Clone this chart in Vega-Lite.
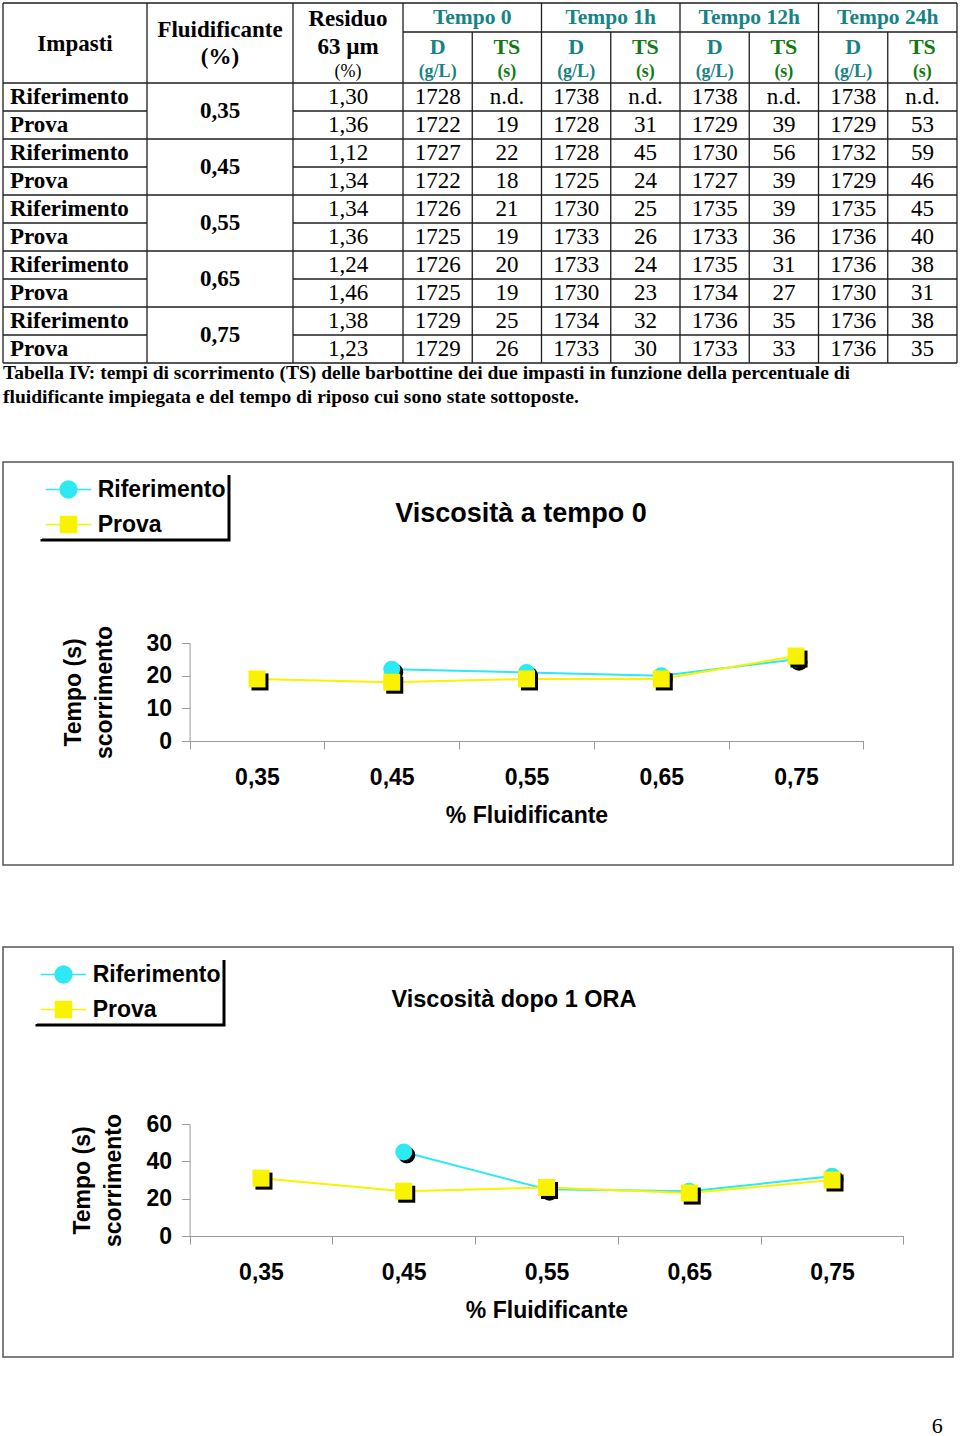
{
  "$schema": "https://vega.github.io/schema/vega-lite/v6.json",
  "padding": 0,
  "background": "white",
  "config": {"view": {"stroke": null}},
  "datasets": {
    "table": [
      {"r":0,"impasto":"Riferimento","fl":"0,35","residuo":"1,30","d0":"1728","ts0":"n.d.","d1":"1738","ts1":"n.d.","d12":"1738","ts12":"n.d.","d24":"1738","ts24":"n.d."},
      {"r":1,"impasto":"Prova","fl":"0,35","residuo":"1,36","d0":"1722","ts0":"19","d1":"1728","ts1":"31","d12":"1729","ts12":"39","d24":"1729","ts24":"53"},
      {"r":2,"impasto":"Riferimento","fl":"0,45","residuo":"1,12","d0":"1727","ts0":"22","d1":"1728","ts1":"45","d12":"1730","ts12":"56","d24":"1732","ts24":"59"},
      {"r":3,"impasto":"Prova","fl":"0,45","residuo":"1,34","d0":"1722","ts0":"18","d1":"1725","ts1":"24","d12":"1727","ts12":"39","d24":"1729","ts24":"46"},
      {"r":4,"impasto":"Riferimento","fl":"0,55","residuo":"1,34","d0":"1726","ts0":"21","d1":"1730","ts1":"25","d12":"1735","ts12":"39","d24":"1735","ts24":"45"},
      {"r":5,"impasto":"Prova","fl":"0,55","residuo":"1,36","d0":"1725","ts0":"19","d1":"1733","ts1":"26","d12":"1733","ts12":"36","d24":"1736","ts24":"40"},
      {"r":6,"impasto":"Riferimento","fl":"0,65","residuo":"1,24","d0":"1726","ts0":"20","d1":"1733","ts1":"24","d12":"1735","ts12":"31","d24":"1736","ts24":"38"},
      {"r":7,"impasto":"Prova","fl":"0,65","residuo":"1,46","d0":"1725","ts0":"19","d1":"1730","ts1":"23","d12":"1734","ts12":"27","d24":"1730","ts24":"31"},
      {"r":8,"impasto":"Riferimento","fl":"0,75","residuo":"1,38","d0":"1729","ts0":"25","d1":"1734","ts1":"32","d12":"1736","ts12":"35","d24":"1736","ts24":"38"},
      {"r":9,"impasto":"Prova","fl":"0,75","residuo":"1,23","d0":"1729","ts0":"26","d1":"1733","ts1":"30","d12":"1733","ts12":"33","d24":"1736","ts24":"35"}
    ],
    "cols": [
      {"key":"residuo","c":2.5},{"key":"d0","c":3.5},{"key":"ts0","c":4.5},{"key":"d1","c":5.5},{"key":"ts1","c":6.5},
      {"key":"d12","c":7.5},{"key":"ts12","c":8.5},{"key":"d24","c":9.5},{"key":"ts24","c":10.5}
    ],
    "t0": [
      {"fl":"0,45","s":"Riferimento","ts":22},{"fl":"0,55","s":"Riferimento","ts":21},{"fl":"0,65","s":"Riferimento","ts":20},{"fl":"0,75","s":"Riferimento","ts":25},
      {"fl":"0,35","s":"Prova","ts":19},{"fl":"0,45","s":"Prova","ts":18},{"fl":"0,55","s":"Prova","ts":19},{"fl":"0,65","s":"Prova","ts":19},{"fl":"0,75","s":"Prova","ts":26}
    ],
    "t1": [
      {"fl":"0,45","s":"Riferimento","ts":45},{"fl":"0,55","s":"Riferimento","ts":25},{"fl":"0,65","s":"Riferimento","ts":24},{"fl":"0,75","s":"Riferimento","ts":32},
      {"fl":"0,35","s":"Prova","ts":31},{"fl":"0,45","s":"Prova","ts":24},{"fl":"0,55","s":"Prova","ts":26},{"fl":"0,65","s":"Prova","ts":23},{"fl":"0,75","s":"Prova","ts":30}
    ]
  },
  "title": {"text": "6", "orient": "bottom", "anchor": "end", "font": "Liberation Serif", "fontSize": 22, "fontWeight": "normal", "color": "black", "offset": 58, "dx": -15},
  "resolve": {"scale": {"color": "independent"}, "legend": {"color": "independent"}},
  "vconcat": [
    {
      "width": 956,
      "height": 380,
      "layer": [
        {
          "data": {"values": [
            {"x":0,"x2":11,"y":-2.5,"y2":-2.5},
            {"x":3,"x2":11,"y":-1.5,"y2":-1.5},
            {"x":0,"x2":11,"y":-0.5,"y2":-0.5},
            {"x":0,"x2":1,"y":0.5,"y2":0.5},{"x":2,"x2":11,"y":0.5,"y2":0.5},
            {"x":0,"x2":11,"y":1.5,"y2":1.5},
            {"x":0,"x2":1,"y":2.5,"y2":2.5},{"x":2,"x2":11,"y":2.5,"y2":2.5},
            {"x":0,"x2":11,"y":3.5,"y2":3.5},
            {"x":0,"x2":1,"y":4.5,"y2":4.5},{"x":2,"x2":11,"y":4.5,"y2":4.5},
            {"x":0,"x2":11,"y":5.5,"y2":5.5},
            {"x":0,"x2":1,"y":6.5,"y2":6.5},{"x":2,"x2":11,"y":6.5,"y2":6.5},
            {"x":0,"x2":11,"y":7.5,"y2":7.5},
            {"x":0,"x2":1,"y":8.5,"y2":8.5},{"x":2,"x2":11,"y":8.5,"y2":8.5},
            {"x":0,"x2":11,"y":9.5,"y2":9.5},
            {"x":0,"x2":0,"y":-2.5,"y2":9.5},{"x":1,"x2":1,"y":-2.5,"y2":9.5},{"x":2,"x2":2,"y":-2.5,"y2":9.5},{"x":3,"x2":3,"y":-2.5,"y2":9.5},
            {"x":5,"x2":5,"y":-2.5,"y2":9.5},{"x":7,"x2":7,"y":-2.5,"y2":9.5},{"x":9,"x2":9,"y":-2.5,"y2":9.5},{"x":11,"x2":11,"y":-2.5,"y2":9.5},
            {"x":4,"x2":4,"y":-1.5,"y2":9.5},{"x":6,"x2":6,"y":-1.5,"y2":9.5},{"x":8,"x2":8,"y":-1.5,"y2":9.5},{"x":10,"x2":10,"y":-1.5,"y2":9.5}
          ]},
          "mark": {"type": "rule", "color": "#1e1e1e", "strokeWidth": 1.3},
          "encoding": {
            "x": {"field": "x", "type": "quantitative", "scale": {"domain": [0,1,2,3,11], "range": [3,147,293,403,957], "nice": false, "zero": false}, "axis": null},
            "x2": {"field": "x2"},
            "y": {"field": "y", "type": "quantitative", "scale": {"domain": [-2.5,-1.5,-0.5,9.5,11.5], "range": [3,32,83,363,407], "nice": false, "zero": false}, "axis": null},
            "y2": {"field": "y2"}
          }
        },
        {
          "data": {"name": "table"},
          "mark": {"type": "text", "align": "left", "dx": 7, "baseline": "middle", "font": "Liberation Serif", "fontSize": 23, "fontWeight": "bold", "color": "black"},
          "encoding": {
            "x": {"datum": 0, "type": "quantitative", "axis": null},
            "y": {"field": "r", "type": "quantitative", "axis": null},
            "text": {"field": "impasto"}
          }
        },
        {
          "data": {"name": "table"},
          "transform": [{"aggregate": [{"op": "mean", "field": "r", "as": "rm"}], "groupby": ["fl"]}],
          "mark": {"type": "text", "align": "center", "baseline": "middle", "font": "Liberation Serif", "fontSize": 23, "fontWeight": "bold", "color": "black"},
          "encoding": {
            "x": {"datum": 1.5, "type": "quantitative", "axis": null},
            "y": {"field": "rm", "type": "quantitative", "axis": null},
            "text": {"field": "fl"}
          }
        },
        {
          "data": {"name": "table"},
          "transform": [
            {"fold": ["residuo","d0","ts0","d1","ts1","d12","ts12","d24","ts24"]},
            {"lookup": "key", "from": {"data": {"name": "cols"}, "key": "key", "fields": ["c"]}}
          ],
          "mark": {"type": "text", "align": "center", "baseline": "middle", "font": "Liberation Serif", "fontSize": 23, "fontWeight": "normal", "color": "black"},
          "encoding": {
            "x": {"field": "c", "type": "quantitative", "axis": null},
            "y": {"field": "r", "type": "quantitative", "axis": null},
            "text": {"field": "value"}
          }
        },
        {
          "data": {"values": [
            {"c":0.5,"y":-1.265,"t":"Impasti"},
            {"c":1.5,"y":-1.569,"t":"Fluidificante"},
            {"c":1.5,"y":-1.01,"t":"(%)"},
            {"c":2.5,"y":-1.948,"t":"Residuo"},
            {"c":2.5,"y":-1.206,"t":"63 µm"}
          ]},
          "mark": {"type": "text", "align": "center", "baseline": "middle", "font": "Liberation Serif", "fontSize": 23, "fontWeight": "bold", "color": "black"},
          "encoding": {
            "x": {"field": "c", "type": "quantitative", "axis": null},
            "y": {"field": "y", "type": "quantitative", "axis": null},
            "text": {"field": "t"}
          }
        },
        {
          "data": {"values": [{"c":2.5,"y":-0.716,"t":"(%)"}]},
          "mark": {"type": "text", "align": "center", "baseline": "middle", "font": "Liberation Serif", "fontSize": 18, "fontWeight": "normal", "color": "black"},
          "encoding": {
            "x": {"field": "c", "type": "quantitative", "axis": null},
            "y": {"field": "y", "type": "quantitative", "axis": null},
            "text": {"field": "t"}
          }
        },
        {
          "data": {"values": [
            {"c":4,"y":-1.983,"t":"Tempo 0"},{"c":6,"y":-1.983,"t":"Tempo 1h"},
            {"c":8,"y":-1.983,"t":"Tempo 12h"},{"c":10,"y":-1.983,"t":"Tempo 24h"}
          ]},
          "mark": {"type": "text", "align": "center", "baseline": "middle", "font": "Liberation Serif", "fontSize": 21.5, "fontWeight": "bold", "color": "#178383"},
          "encoding": {
            "x": {"field": "c", "type": "quantitative", "axis": null},
            "y": {"field": "y", "type": "quantitative", "axis": null},
            "text": {"field": "t"}
          }
        },
        {
          "data": {"values": [
            {"c":3.5,"y":-1.206,"t":"D"},{"c":5.5,"y":-1.206,"t":"D"},{"c":7.5,"y":-1.206,"t":"D"},{"c":9.5,"y":-1.206,"t":"D"}
          ]},
          "mark": {"type": "text", "align": "center", "baseline": "middle", "font": "Liberation Serif", "fontSize": 22, "fontWeight": "bold", "color": "#178383"},
          "encoding": {
            "x": {"field": "c", "type": "quantitative", "axis": null},
            "y": {"field": "y", "type": "quantitative", "axis": null},
            "text": {"field": "t"}
          }
        },
        {
          "data": {"values": [
            {"c":3.5,"y":-0.716,"t":"(g/L)"},{"c":5.5,"y":-0.716,"t":"(g/L)"},{"c":7.5,"y":-0.716,"t":"(g/L)"},{"c":9.5,"y":-0.716,"t":"(g/L)"}
          ]},
          "mark": {"type": "text", "align": "center", "baseline": "middle", "font": "Liberation Serif", "fontSize": 18, "fontWeight": "bold", "color": "#178383"},
          "encoding": {
            "x": {"field": "c", "type": "quantitative", "axis": null},
            "y": {"field": "y", "type": "quantitative", "axis": null},
            "text": {"field": "t"}
          }
        },
        {
          "data": {"values": [
            {"c":4.5,"y":-1.206,"t":"TS"},{"c":6.5,"y":-1.206,"t":"TS"},{"c":8.5,"y":-1.206,"t":"TS"},{"c":10.5,"y":-1.206,"t":"TS"}
          ]},
          "mark": {"type": "text", "align": "center", "baseline": "middle", "font": "Liberation Serif", "fontSize": 22, "fontWeight": "bold", "color": "#137a13"},
          "encoding": {
            "x": {"field": "c", "type": "quantitative", "axis": null},
            "y": {"field": "y", "type": "quantitative", "axis": null},
            "text": {"field": "t"}
          }
        },
        {
          "data": {"values": [
            {"c":4.5,"y":-0.716,"t":"(s)"},{"c":6.5,"y":-0.716,"t":"(s)"},{"c":8.5,"y":-0.716,"t":"(s)"},{"c":10.5,"y":-0.716,"t":"(s)"}
          ]},
          "mark": {"type": "text", "align": "center", "baseline": "middle", "font": "Liberation Serif", "fontSize": 18, "fontWeight": "bold", "color": "#137a13"},
          "encoding": {
            "x": {"field": "c", "type": "quantitative", "axis": null},
            "y": {"field": "y", "type": "quantitative", "axis": null},
            "text": {"field": "t"}
          }
        },
        {
          "data": {"values": [
            {"y":9.96,"t":"Tabella IV: tempi di scorrimento (TS) delle barbottine dei due impasti in funzione della percentuale di"},
            {"y":11.045,"t":"fluidificante impiegata e del tempo di riposo cui sono state sottoposte."}
          ]},
          "mark": {"type": "text", "align": "left", "baseline": "middle", "font": "Liberation Serif", "fontSize": 19.5, "fontWeight": "bold", "color": "black"},
          "encoding": {
            "x": {"datum": 0, "type": "quantitative", "axis": null},
            "y": {"field": "y", "type": "quantitative", "axis": null},
            "text": {"field": "t"}
          }
        }
      ]
    },
    {
      "width": 950,
      "height": 403,
      "view": {"stroke": "#555555", "strokeWidth": 1.5},
      "title": {"text": "Viscosità a tempo 0", "font": "Liberation Sans", "fontSize": 27, "fontWeight": "bold", "color": "black", "anchor": "middle", "frame": "group", "offset": 0, "dx": 43, "dy": 66},
      "data": {"name": "t0"},
      "encoding": {
        "x": {"field": "fl", "type": "nominal",
          "scale": {"type": "band", "domain": ["0,35","0,45","0,55","0,65","0,75"], "range": [186.6, 860.4], "paddingInner": 0, "paddingOuter": 0},
          "axis": {"title": "% Fluidificante", "orient": "bottom", "offset": -124, "tickBand": "extent", "grid": false, "domainColor": "#9a9a9a", "tickColor": "#9a9a9a", "tickSize": 8, "labelAngle": 0, "labelFont": "Liberation Sans", "labelFontSize": 23, "labelFontWeight": "bold", "labelColor": "black", "labelPadding": 17, "titleFont": "Liberation Sans", "titleFontSize": 23, "titleFontWeight": "bold", "titleColor": "black", "titlePadding": 15}},
        "y": {"field": "ts", "type": "quantitative",
          "scale": {"domain": [0, 30], "range": [279, 181], "nice": false, "zero": false},
          "axis": {"title": ["Tempo (s)", "scorrimento"], "values": [0,10,20,30], "offset": -186.6, "grid": false, "domainColor": "#9a9a9a", "tickColor": "#9a9a9a", "tickSize": 8, "labelFont": "Liberation Sans", "labelFontSize": 23, "labelFontWeight": "bold", "labelColor": "black", "labelPadding": 10, "titleFont": "Liberation Sans", "titleFontSize": 23, "titleFontWeight": "bold", "titleColor": "black", "titlePadding": 30, "titleLineHeight": 31}}
      },
      "layer": [
        {
          "mark": {"type": "line", "strokeWidth": 2},
          "encoding": {
            "color": {"field": "s", "type": "nominal",
              "scale": {"domain": ["Riferimento", "Prova"], "range": ["#2EE8F2", "#F9F200"]},
              "legend": {"orient": "none", "legendX": 39, "legendY": 13, "direction": "vertical", "title": null,
                "labelFont": "Liberation Sans", "labelFontSize": 23, "labelFontWeight": "bold", "labelColor": "black",
                "symbolSize": 256, "symbolOffset": 12, "labelOffset": 17.7, "rowPadding": 11, "padding": 3,
                "encode": {
                  "symbols": {"update": {
                    "shape": {"signal": "datum.value === 'Riferimento' ? 'M-2.85,0H2.85M1.05,0A1.05,1.05,0,1,1,-1.05,0A1.05,1.05,0,1,1,1.05,0Z' : 'M-2.85,0H2.85M-1,-1H1V1H-1Z'"},
                    "fill": {"signal": "datum.value === 'Riferimento' ? '#2EE8F2' : '#F9F200'"},
                    "stroke": {"signal": "datum.value === 'Riferimento' ? '#2EE8F2' : '#F9F200'"},
                    "strokeWidth": {"value": 1.5},
                    "opacity": {"value": 1}
                  }},
                  "legend": {"update": {"stroke": {"value": "black"}, "strokeWidth": {"value": 3}, "strokeDash": {"value": [0, 187, 253, 1000]}}}
                }}
            }
          }
        },
        {"transform": [{"filter": "datum.s === 'Riferimento'"}], "mark": {"type": "point", "shape": "circle", "filled": true, "size": 289, "opacity": 1, "color": "black", "xOffset": 3, "yOffset": 3}},
        {"transform": [{"filter": "datum.s === 'Riferimento'"}], "mark": {"type": "point", "shape": "circle", "filled": true, "size": 289, "opacity": 1, "color": "#2EE8F2"}},
        {"transform": [{"filter": "datum.s === 'Prova'"}], "mark": {"type": "point", "shape": "square", "filled": true, "size": 289, "opacity": 1, "color": "black", "xOffset": 3, "yOffset": 3}},
        {"transform": [{"filter": "datum.s === 'Prova'"}], "mark": {"type": "point", "shape": "square", "filled": true, "size": 289, "opacity": 1, "color": "#F9F200"}}
      ]
    },
    {
      "width": 950,
      "height": 410,
      "view": {"stroke": "#555555", "strokeWidth": 1.5},
      "title": {"text": "Viscosità dopo 1 ORA", "font": "Liberation Sans", "fontSize": 23.5, "fontWeight": "bold", "color": "black", "anchor": "middle", "frame": "group", "offset": 0, "dx": 36, "dy": 64},
      "data": {"name": "t1"},
      "encoding": {
        "x": {"field": "fl", "type": "nominal",
          "scale": {"type": "band", "domain": ["0,35","0,45","0,55","0,65","0,75"], "range": [186.6, 900.4], "paddingInner": 0, "paddingOuter": 0},
          "axis": {"title": "% Fluidificante", "orient": "bottom", "offset": -121, "tickBand": "extent", "grid": false, "domainColor": "#9a9a9a", "tickColor": "#9a9a9a", "tickSize": 8, "labelAngle": 0, "labelFont": "Liberation Sans", "labelFontSize": 23, "labelFontWeight": "bold", "labelColor": "black", "labelPadding": 17, "titleFont": "Liberation Sans", "titleFontSize": 23, "titleFontWeight": "bold", "titleColor": "black", "titlePadding": 15}},
        "y": {"field": "ts", "type": "quantitative",
          "scale": {"domain": [0, 60], "range": [289, 177], "nice": false, "zero": false},
          "axis": {"title": ["Tempo (s)", "scorrimento"], "values": [0,20,40,60], "offset": -186.6, "grid": false, "domainColor": "#9a9a9a", "tickColor": "#9a9a9a", "tickSize": 8, "labelFont": "Liberation Sans", "labelFontSize": 23, "labelFontWeight": "bold", "labelColor": "black", "labelPadding": 10, "titleFont": "Liberation Sans", "titleFontSize": 23, "titleFontWeight": "bold", "titleColor": "black", "titlePadding": 21, "titleLineHeight": 31}}
      },
      "layer": [
        {
          "mark": {"type": "line", "strokeWidth": 2},
          "encoding": {
            "color": {"field": "s", "type": "nominal",
              "scale": {"domain": ["Riferimento", "Prova"], "range": ["#2EE8F2", "#F9F200"]},
              "legend": {"orient": "none", "legendX": 34, "legendY": 13, "direction": "vertical", "title": null,
                "labelFont": "Liberation Sans", "labelFontSize": 23, "labelFontWeight": "bold", "labelColor": "black",
                "symbolSize": 256, "symbolOffset": 12, "labelOffset": 17.7, "rowPadding": 11, "padding": 3,
                "encode": {
                  "symbols": {"update": {
                    "shape": {"signal": "datum.value === 'Riferimento' ? 'M-2.85,0H2.85M1.05,0A1.05,1.05,0,1,1,-1.05,0A1.05,1.05,0,1,1,1.05,0Z' : 'M-2.85,0H2.85M-1,-1H1V1H-1Z'"},
                    "fill": {"signal": "datum.value === 'Riferimento' ? '#2EE8F2' : '#F9F200'"},
                    "stroke": {"signal": "datum.value === 'Riferimento' ? '#2EE8F2' : '#F9F200'"},
                    "strokeWidth": {"value": 1.5},
                    "opacity": {"value": 1}
                  }},
                  "legend": {"update": {"stroke": {"value": "black"}, "strokeWidth": {"value": 3}, "strokeDash": {"value": [0, 187, 253, 1000]}}}
                }}
            }
          }
        },
        {"transform": [{"filter": "datum.s === 'Riferimento'"}], "mark": {"type": "point", "shape": "circle", "filled": true, "size": 289, "opacity": 1, "color": "black", "xOffset": 3, "yOffset": 3}},
        {"transform": [{"filter": "datum.s === 'Riferimento'"}], "mark": {"type": "point", "shape": "circle", "filled": true, "size": 289, "opacity": 1, "color": "#2EE8F2"}},
        {"transform": [{"filter": "datum.s === 'Prova'"}], "mark": {"type": "point", "shape": "square", "filled": true, "size": 289, "opacity": 1, "color": "black", "xOffset": 3, "yOffset": 3}},
        {"transform": [{"filter": "datum.s === 'Prova'"}], "mark": {"type": "point", "shape": "square", "filled": true, "size": 289, "opacity": 1, "color": "#F9F200"}}
      ]
    }
  ],
  "spacing": 82,
  "bounds": "flush",
  "center": true
}
